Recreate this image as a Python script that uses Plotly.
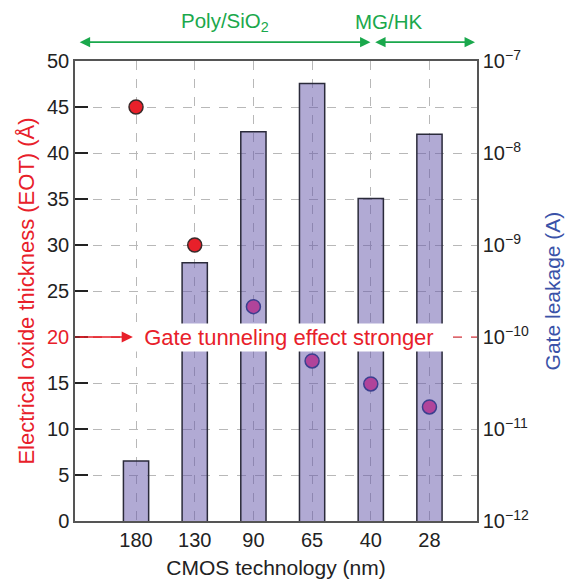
import plotly.graph_objects as go

categories = ["180", "130", "90", "65", "40", "28"]
positions = [0, 1, 2, 3, 4, 5]
leakage = [4.5e-12, 6.4e-10, 1.7e-8, 5.7e-8, 3.2e-9, 1.6e-8]
eot = [45, 30, 23.3, 17.4, 14.9, 12.4]
eot_colors = ["#e8202a", "#e8202a", "#b0449a", "#b0449a", "#b0449a", "#b0449a"]
eot_lines = ["#3a2a2a", "#3a2a2a", "#3b3f8f", "#3b3f8f", "#3b3f8f", "#3b3f8f"]
left_ticks = [0, 5, 10, 15, 20, 25, 30, 35, 40, 45, 50]
left_ticktext = [str(v) if v != 20 else '<span style="color:#e8202a">20</span>' for v in left_ticks]
right_exps = [-12, -11, -10, -9, -8, -7]
right_ticks = [10.0 ** e for e in right_exps]
right_ticktext = ["10<sup>\u2212%d</sup>" % (-e) for e in right_exps]

FONT = "Liberation Sans, Arial, sans-serif"
GREEN = "#1aa84c"
RED = "#e8202a"
BLUE = "#3a52a8"

fig = go.Figure()
# bars on the (right, log) base axis
fig.add_trace(go.Bar(
    x=positions, y=leakage, yaxis="y", width=0.43,
    marker=dict(color="rgba(100,85,170,0.5)", line=dict(color="#2a2a3a", width=1.5)),
    showlegend=False,
))
# markers on the (left, linear) overlaying axis, drawn on top
fig.add_trace(go.Scatter(
    x=positions, y=eot, yaxis="y2", mode="markers",
    marker=dict(size=14, color=eot_colors, line=dict(color=eot_lines, width=1.5)),
    showlegend=False, cliponaxis=False,
))

fig.update_layout(
    width=566, height=579,
    margin=dict(l=75, r=89, t=61, b=58),
    paper_bgcolor="white", plot_bgcolor="white",
    font=dict(family=FONT, size=20, color="#222"),
    xaxis=dict(
        range=[-1.04, 5.81], tickvals=positions, ticktext=categories,
        showgrid=True, gridcolor="#b8b8b8", griddash="dash", gridwidth=1,
        showline=True, linecolor="#555", linewidth=1.5, mirror=True,
        ticks="", zeroline=False, automargin=False,
        title=dict(text="CMOS technology (nm)", font=dict(size=21, color="#222"), standoff=14),
    ),
    yaxis=dict(
        type="log", range=[-12, -7], side="right",
        tickvals=right_ticks, ticktext=right_ticktext,
        showgrid=False, ticks="",
        showline=True, linecolor="#555", linewidth=1.5, zeroline=False, automargin=False,
        title=dict(text="Gate leakage (A)", font=dict(size=21, color=BLUE), standoff=17),
    ),
    yaxis2=dict(
        range=[0, 50], tickvals=left_ticks, ticktext=left_ticktext, overlaying="y", side="left",
        showgrid=True, gridcolor="#b8b8b8", griddash="dash", gridwidth=1,
        showline=True, linecolor="#555", linewidth=1.5, mirror=True,
        ticks="inside", ticklen=13, tickwidth=1.5, tickcolor="#222",
        zeroline=False, automargin=False,
        title=dict(text="Electrical oxide thickness (EOT) (Å)", font=dict(size=22, color=RED), standoff=6),
    ),
)

# red dashed line at 20
fig.add_shape(type="line", xref="paper", yref="y2", x0=0, x1=1, y0=20, y1=20,
              line=dict(color=RED, width=1, dash="dash"), layer="above")

fig.add_annotation(xref="paper", yref="y2", x=0.532, y=20,
                   text="&nbsp;&nbsp;Gate tunneling effect stronger&nbsp;&nbsp;",
                   showarrow=False, font=dict(size=22, color=RED), bgcolor="white", borderpad=1)
fig.add_annotation(xref="x domain", yref="y2", axref="x domain", ayref="y2",
                   x=0.144, y=20, ax=0.008, ay=20, text="", showarrow=True,
                   arrowhead=2, arrowsize=1.4, arrowwidth=1.6, arrowcolor=RED)

# top green arrows
fig.add_annotation(xref="x domain", yref="y domain", axref="x domain", ayref="y domain",
                   x=0.735, y=1.041, ax=0.008, ay=1.041, text="", showarrow=True,
                   arrowhead=2, startarrowhead=2, arrowside="end+start", arrowsize=1.3, startarrowsize=1.3,
                   arrowwidth=1.6, arrowcolor=GREEN)
fig.add_annotation(xref="x domain", yref="y domain", axref="x domain", ayref="y domain",
                   x=0.995, y=1.041, ax=0.743, ay=1.041, text="", showarrow=True,
                   arrowhead=2, startarrowhead=2, arrowside="end+start", arrowsize=1.3, startarrowsize=1.3,
                   arrowwidth=1.6, arrowcolor=GREEN)
fig.add_annotation(xref="paper", yref="paper", x=0.373, y=1.085, yanchor="middle", text="Poly/SiO<sub>2</sub>",
                   showarrow=False, font=dict(size=20.5, color=GREEN))
fig.add_annotation(xref="paper", yref="paper", x=0.87, y=1.085, yanchor="middle", text="MG/HK",
                   showarrow=False, font=dict(size=20.5, color=GREEN))

fig.write_html("out.html")
